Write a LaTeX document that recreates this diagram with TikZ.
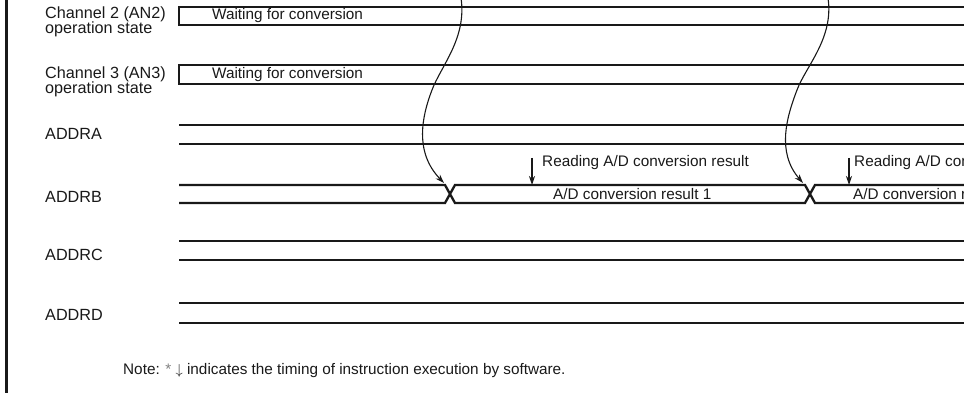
\documentclass[tikz,border=0pt]{standalone}
\usepackage{fontspec}
\setmainfont{Liberation Sans}
\usetikzlibrary{arrows.meta}
\definecolor{ink}{RGB}{25,25,25}
\begin{document}
\begin{tikzpicture}[x=1pt,y=-1pt,
  sig/.style={draw=ink,line width=2.3pt,line join=miter},
  lbl/.style={anchor=west,inner sep=0pt,text=ink,font=\fontsize{16.2}{15.5}\selectfont,align=left},
  txt/.style={anchor=west,inner sep=0pt,text=ink,font=\fontsize{15.3}{16}\selectfont},
  evt/.style={draw=ink,line width=1.1pt,-{Stealth[length=9pt,width=6pt]}},
  rd/.style={draw=ink,line width=1.1pt,-{Stealth[length=9pt,width=6pt]}}]
\useasboundingbox (0,0) rectangle (964,393);
\clip (0,0) rectangle (964,393);
% left border
\draw[ink,line width=3.5pt] (6.5,-5) -- (6.5,400);
% labels
\node[lbl] (l2) at (45,22) {Channel 2 (AN2)\\operation state};
\node[lbl] (l3) at (45,82) {Channel 3 (AN3)\\operation state};
\node[lbl] (la) at (45,134) {ADDRA};
\node[lbl] (lb) at (45,197) {ADDRB};
\node[lbl] (lc) at (45,255) {ADDRC};
\node[lbl] (ld) at (45,315) {ADDRD};
% channel boxes
\draw[sig] (980,7) -- (179,7) -- (179,25) -- (980,25);
\draw[sig] (980,65) -- (179,65) -- (179,84) -- (980,84);
\node[txt] (w2) at (212,16) {Waiting for conversion};
\node[txt] (w3) at (212,75) {Waiting for conversion};
% ADDRA, ADDRC, ADDRD
\draw[sig] (179,125) -- (980,125);
\draw[sig] (179,144) -- (980,144);
\draw[sig] (179,241) -- (980,241);
\draw[sig] (179,260) -- (980,260);
\draw[sig] (179,303) -- (980,303);
\draw[sig] (179,323) -- (980,323);
% ADDRB with transitions
\draw[sig] (179,185) -- (445,185) -- (455,203) -- (805,203) -- (815,185) -- (980,185);
\draw[sig] (179,203) -- (445,203) -- (455,185) -- (805,185) -- (815,203) -- (980,203);
\coordinate (x1) at (444,183);
\coordinate (x2) at (803,183);
\node[txt] (r1) at (553,194) {A/D conversion result 1};
\node[txt] (r2) at (853,194) {A/D conversion result 2};
% event curves
\coordinate (s1) at (461,-2);
\coordinate (s2) at (828,-2);
\draw[evt] (s1) .. controls (467,38) and (441,66) .. (432,90) .. controls (422,116) and (414,152) .. (x1);
\draw[evt] (s2) .. controls (834,38) and (806,66) .. (797,90) .. controls (787,116) and (776,152) .. (x2);
% reading arrows
\coordinate (a1) at (532,158);
\coordinate (b1) at (532,185);
\coordinate (a2) at (849,158);
\coordinate (b2) at (849,185);
\draw[rd] (a1) -- (b1);
\draw[rd] (a2) -- (b2);
\node[txt] (t1) at (542,163) {Reading A/D conversion result};
\node[txt] (t2) at (854,163) {Reading A/D conversion result};
% note
\node[txt] (note) at (123,371) {Note: {\color{gray}*} $\downarrow$ indicates the timing of instruction execution by software.};
\end{tikzpicture}
\end{document}
